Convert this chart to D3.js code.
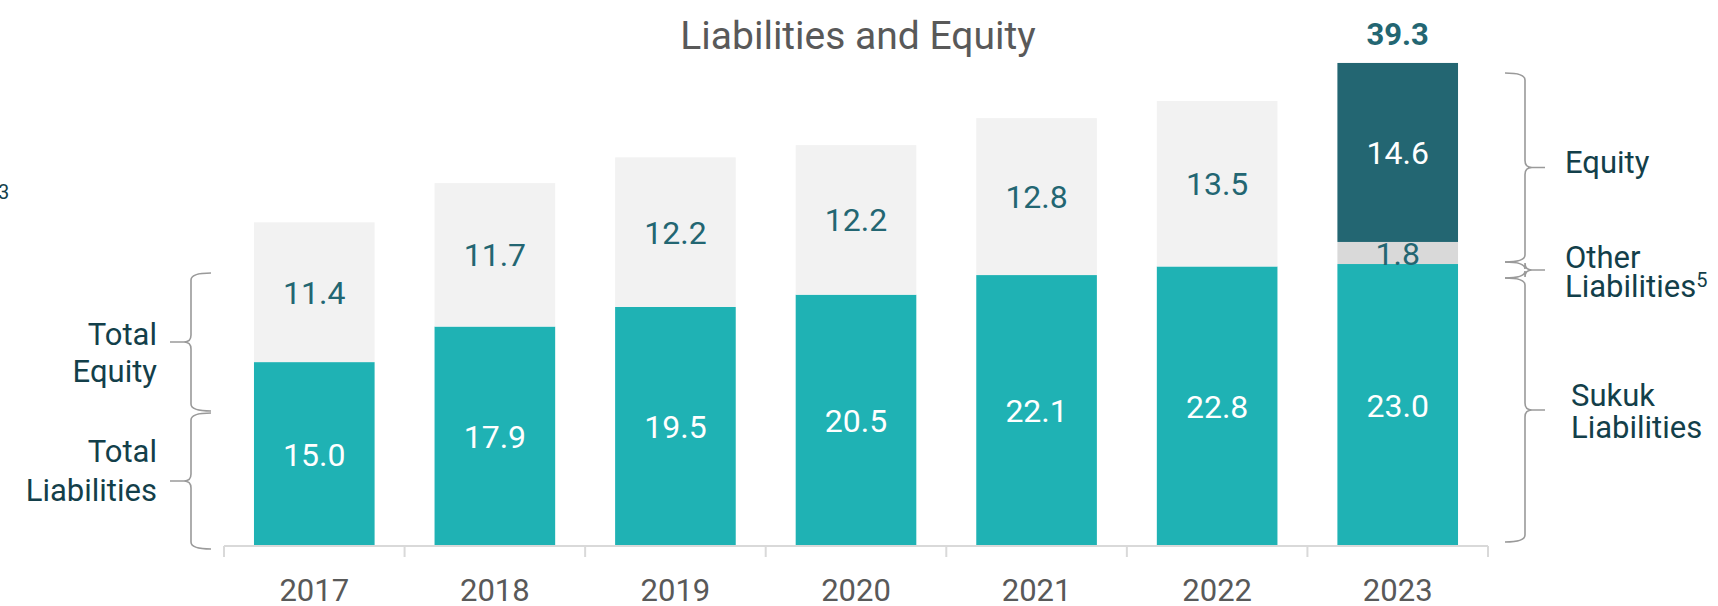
<!DOCTYPE html>
<html lang="en">
    <head>
        <meta charset="utf-8">
        <style type="text/css">
            body { margin: 0; background: #fff; }
            svg { display: block; font-family: Roboto, "Noto Sans", sans-serif; }
            .brace { fill: none; stroke: #9a9a9a; stroke-width: 1.6px; }
            .note { fill: #133f4a; font-size: 31px; }
        </style>
    </head>
    <body>
        <svg width="1718" height="606"></svg>

        <script src="https://d3js.org/d3.v7.min.js"></script>
        <script>
            // values in billions
            var years = ["2017", "2018", "2019", "2020", "2021", "2022", "2023"];
            var liabilities = [15.0, 17.9, 19.5, 20.5, 22.1, 22.8, 23.0];
            var otherLiabilities = [0, 0, 0, 0, 0, 0, 1.8];
            var equity = [11.4, 11.7, 12.2, 12.2, 12.8, 13.5, 14.6];
            var totalLabels = [null, null, null, null, null, null, 39.3];

            var keys = ["liabilities", "other", "equity"];
            var rows = years.map(function (y, i) {
                return { year: y, liabilities: liabilities[i], other: otherLiabilities[i], equity: equity[i], total: totalLabels[i] };
            });

            var svg = d3.select("svg");

            var x = d3.scaleBand()
                .domain(years)
                .range([224, 1488])
                .paddingInner(0.332)
                .paddingOuter(0.166);

            var y = d3.scaleLinear()
                .domain([0, 40])
                .range([546, 55.6]);

            function segColor(key, d) {
                var last = d.data.year === "2023";
                if (key === "liabilities") return "#1fb2b4";
                if (key === "other") return "#d9d9d9";
                return last ? "#236672" : "#f2f2f2";
            }
            function labelColor(key, d) {
                if (key === "liabilities") return "#fff";
                if (key === "equity" && d.data.year === "2023") return "#fff";
                return "#236672";
            }

            var series = d3.stack().keys(keys)(rows);

            var layer = svg.selectAll(".layer")
                .data(series)
                .enter()
                .append("g")
                .attr("class", "layer");

            layer.selectAll("rect")
                .data(function (s) { return s.map(function (d) { d.key = s.key; return d; }); })
                .enter()
                .append("rect")
                .attr("x", function (d) { return x(d.data.year); })
                .attr("width", x.bandwidth())
                .attr("y", function (d) { return y(d[1]); })
                .attr("height", function (d) { return y(d[0]) - y(d[1]); })
                .attr("fill", function (d) { return segColor(d.key, d); });

            layer.selectAll("text")
                .data(function (s) { return s.filter(function (d) { return d[1] - d[0] > 0; }); })
                .enter()
                .append("text")
                .attr("x", function (d) { return x(d.data.year) + x.bandwidth() / 2; })
                .attr("y", function (d) { return (y(d[0]) + y(d[1])) / 2; })
                .attr("dy", "0.36em")
                .attr("text-anchor", "middle")
                .attr("font-size", 32)
                .attr("fill", function (d) { return labelColor(d.key, d); })
                .text(function (d) { return d3.format(".1f")(d[1] - d[0]); });

            // total on top
            var topSeries = series[series.length - 1];
            svg.selectAll(".total")
                .data(topSeries.filter(function (d) { return d.data.total != null; }))
                .enter()
                .append("text")
                .attr("class", "total")
                .attr("x", function (d) { return x(d.data.year) + x.bandwidth() / 2; })
                .attr("y", function (d) { return y(d[1]) - 18; })
                .attr("text-anchor", "middle")
                .attr("font-size", 31)
                .attr("font-weight", "bold")
                .attr("fill", "#236672")
                .text(function (d) { return d3.format(".1f")(d.data.total); });

            // axis
            var x0 = x.range()[0], x1 = x.range()[1], step = x.step();
            svg.append("line")
                .attr("x1", x0).attr("x2", x1)
                .attr("y1", y(0)).attr("y2", y(0))
                .attr("stroke", "#d9d9d9").attr("stroke-width", 2);
            svg.selectAll(".tick")
                .data(d3.range(years.length + 1))
                .enter()
                .append("line")
                .attr("class", "tick")
                .attr("x1", function (i) { return x0 + i * step; })
                .attr("x2", function (i) { return x0 + i * step; })
                .attr("y1", y(0)).attr("y2", y(0) + 11)
                .attr("stroke", "#d9d9d9").attr("stroke-width", 2);
            svg.selectAll(".year")
                .data(years)
                .enter()
                .append("text")
                .attr("class", "year")
                .attr("x", function (d) { return x(d) + x.bandwidth() / 2; })
                .attr("y", 601)
                .attr("text-anchor", "middle")
                .attr("font-size", 31)
                .attr("fill", "#595959")
                .text(function (d) { return d; });

            // title
            svg.append("text")
                .attr("x", 858).attr("y", 49)
                .attr("text-anchor", "middle")
                .attr("font-size", 39)
                .attr("fill", "#595959")
                .text("Liabilities and Equity");

            // curly brace: ends at xEnd, spine at xMid, tip at xTip
            function brace(xEnd, xMid, xTip, y0, y1, ym) {
                var r = 7, s = xTip > xMid ? 1 : -1;
                return "M" + xEnd + "," + y0 +
                    "Q" + xMid + "," + y0 + " " + xMid + "," + (y0 + r) +
                    "V" + (ym - r) +
                    "Q" + xMid + "," + ym + " " + (xMid + s * r) + "," + ym +
                    "H" + xTip +
                    "M" + (xMid + s * r) + "," + ym +
                    "Q" + xMid + "," + ym + " " + xMid + "," + (ym + r) +
                    "V" + (y1 - r) +
                    "Q" + xMid + "," + y1 + " " + xEnd + "," + y1;
            }

            // left legend braces
            svg.append("path").attr("class", "brace").attr("d", brace(211, 191, 170, 273, 411, 342));
            svg.append("path").attr("class", "brace").attr("d", brace(211, 191, 170, 413, 549, 481));

            var left = svg.append("g").attr("class", "note").attr("text-anchor", "end");
            left.append("text").attr("x", 157).attr("y", 345).text("Total");
            left.append("text").attr("x", 157).attr("y", 382).text("Equity");
            left.append("text").attr("x", 157).attr("y", 462).text("Total");
            left.append("text").attr("x", 157).attr("y", 501).text("Liabilities");

            // right braces for the last bar
            var last = years.length - 1;
            var yTop = y(liabilities[last] + otherLiabilities[last] + equity[last]);
            var ySuk = y(liabilities[last]);
            var eq0 = yTop + 10, eq1 = ySuk - 2, suk0 = ySuk + 14, suk1 = y(0) - 4;
            svg.append("path").attr("class", "brace").attr("d", brace(1505, 1525, 1545, eq0, eq1, (eq0 + eq1) / 2));
            svg.append("path").attr("class", "brace").attr("d", brace(1505, 1525, 1545, eq1, suk0, (eq1 + suk0) / 2));
            svg.append("path").attr("class", "brace").attr("d", brace(1505, 1525, 1545, suk0, suk1, (suk0 + suk1) / 2));

            var right = svg.append("g").attr("class", "note");
            right.append("text").attr("x", 1565).attr("y", (eq0 + eq1) / 2 + 6).text("Equity");
            right.append("text").attr("x", 1565).attr("y", (eq1 + suk0) / 2 - 2).text("Other");
            var ol = right.append("text").attr("x", 1565).attr("y", (eq1 + suk0) / 2 + 27);
            ol.append("tspan").text("Liabilities");
            ol.append("tspan").attr("font-size", 20).attr("dy", -10).text("5");
            right.append("text").attr("x", 1571).attr("y", (suk0 + suk1) / 2 - 4).text("Sukuk");
            right.append("text").attr("x", 1571).attr("y", (suk0 + suk1) / 2 + 28).text("Liabilities");

            // clipped footnote mark from neighbouring panel
            svg.append("text").attr("x", -2).attr("y", 199).attr("font-size", 20).attr("fill", "#133f4a").text("3");
        </script>
    </body>
</html>
